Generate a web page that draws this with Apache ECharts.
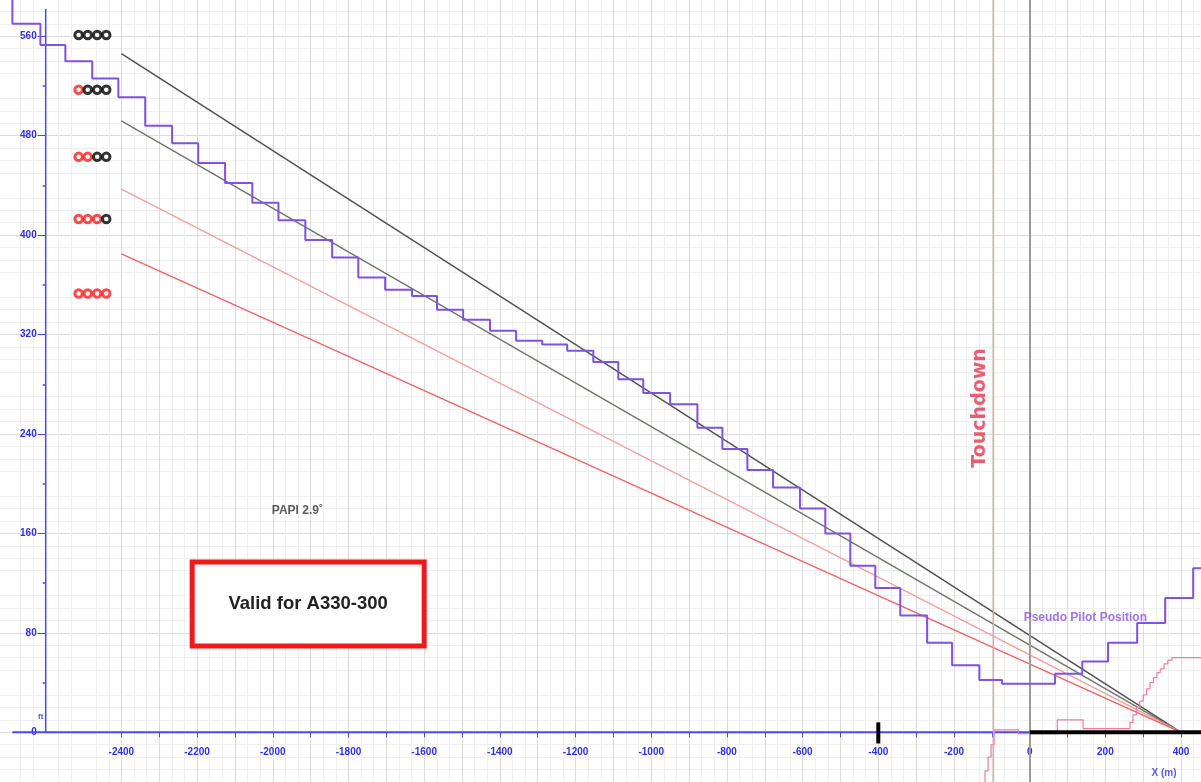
<!DOCTYPE html>
<html>
<head>
<meta charset="utf-8">
<style>html,body{margin:0;padding:0;background:#fff}#chart{width:1201px;height:782px}</style>
<script src="https://cdn.jsdelivr.net/npm/echarts@6.0.0/dist/echarts.min.js"></script>
</head>
<body>
<div id="chart"></div>
<script>
// ---- tick labels ----
const xTickValues = [-2400,-2300,-2200,-2100,-2000,-1900,-1800,-1700,-1600,-1500,-1400,-1300,-1200,-1100,-1000,-900,-800,-700,-600,-500,-400,-300,-200,-100,0,100,200,300,400];
const xLabelValues = [-2400,-2200,-2000,-1800,-1600,-1400,-1200,-1000,-800,-600,-400,-200,0,200,400];
const yLabelValues = [0,80,160,240,320,400,480,560];
const yMinorTickValues = [40,120,200,280,360,440,520];

// ---- PAPI glide lines (x in m, height in ft) ----
const glideX = [-2400, 400];
const papiHigh = [546, 0];
const papiSlightHigh = [492, 0];
const papiSlightLow = [437, 0];
const papiLow = [385, 0];

// ---- Pseudo pilot position (stepped) ----
const pilotX = [-2688,-2688,-2614,-2548,-2477,-2408,-2337,-2266,-2197,-2126,-2054,-1985,-1914,-1843,-1774,-1703,-1632,-1566,-1497,-1426,-1357,-1288,-1222,-1153,-1087,-1021,-950,-878,-812,-746,-678,-607,-540,-474,-408,-342,-271,-205,-133,-73,67,139,207,284,358,432,453];
const pilotY = [592,570,553,540,526,511,488,474,458,442,426,412,396,382,366,356,351,340,332,323,315,312,307,298,284,273,264,245,228,211,197,180,160,134,116,94,72,54,42,39,47,57,72,88,108,132,132];

// ---- wheel height trace (stepped, pink) ----
const wheelX = [-118,-118,-110,-102,-94,-30,73,141,257,265,273,282,291,300,309,318,327,336,345,355,365,376,453];
const wheelY = [-50,-31,-20,-10,2,-1,10,3,3,8,14,20,25,30,35,40,44,48,51,55,58,60,60];

// ---- runway, axes helpers, markers ----
const runwayX = [0, 453];
const runwayY = [0, 0];
const xAxisLineX = [-2688, 453];
const yAxisLineY = [0, 582];
const yAxisAt = -2600;
const touchdownX = -97;
const thresholdX = 0;
const markerX = -400;
const markerY = [8, -9];

// ---- PAPI light indicator rows ----
const papiLightX = [-2513, -2489, -2464, -2440];
const papiRowY = [561, 517, 463, 413, 353];
const papiRedCount = [0, 1, 2, 3, 4];

const blue = '#4848f4';
const blueText = '#3030e8';

function pairs(xs, ys) { return xs.map((x, i) => [x, ys[i]]); }

const papiLights = [];
papiRowY.forEach((y, r) => {
  papiLightX.forEach((x, c) => {
    const red = c < papiRedCount[r];
    papiLights.push({ value: [x, y], itemStyle: { borderColor: red ? '#ff1e1e' : '#000000' } });
  });
});

const chart = echarts.init(document.getElementById('chart'), null, { renderer: 'canvas' });

const axisFont = { color: blueText, fontSize: 10, fontWeight: 'bold', fontFamily: 'Liberation Sans, Arial, sans-serif' };

const option = {
  animation: false,
  backgroundColor: '#ffffff',
  grid: { left: -30, right: 1, top: -1, bottom: 0, containLabel: false, outerBoundsMode: 'none' },
  xAxis: {
    type: 'value', min: -2800, max: 450, interval: 100, position: 'bottom', offset: -49.7,
    axisLine: { show: true, onZero: false, lineStyle: { opacity: 0 } },
    axisTick: { show: true, customValues: xTickValues, length: 5, lineStyle: { color: blue, width: 1 } },
    axisLabel: Object.assign({ customValues: xLabelValues, margin: 15, formatter: v => String(v) }, axisFont),
    splitLine: { show: true, lineStyle: { color: '#dcdcdc', width: 1 } },
    minorTick: { show: false, splitNumber: 3 },
    minorSplitLine: { show: true, lineStyle: { color: '#efefef', width: 1 } }
  },
  yAxis: [
    {
      type: 'value', min: -40, max: 590, interval: 40, position: 'left', offset: -(75.7),
      axisLine: { show: false, onZero: false },
      axisTick: { show: true, customValues: yLabelValues, length: 8, lineStyle: { color: blue, width: 1 } },
      axisLabel: Object.assign({ customValues: yLabelValues, margin: 9, formatter: v => String(v) }, axisFont),
      splitLine: { show: true, lineStyle: { color: '#dcdcdc', width: 1 } },
      minorTick: { show: false, splitNumber: 4 },
      minorSplitLine: { show: true, lineStyle: { color: '#efefef', width: 1 } }
    },
    {
      type: 'value', min: -40, max: 590, interval: 40, position: 'left', offset: -(75.7),
      axisLine: { show: false, onZero: false },
      axisTick: { show: true, customValues: yMinorTickValues, length: 3, lineStyle: { color: blue, width: 1.5 } },
      axisLabel: { show: false },
      splitLine: { show: false }
    }
  ],
  series: [
    {
      name: 'x axis line', type: 'line', symbol: 'none', silent: true, z: 3,
      data: pairs(xAxisLineX, [0, 0]),
      lineStyle: { color: blue, width: 2 },
      markLine: {
        silent: true, symbol: ['none', 'none'], label: { show: false },
        data: [
          { xAxis: touchdownX, lineStyle: { color: '#f4a0ad', width: 1.3, type: 'solid' } },
          { xAxis: thresholdX, lineStyle: { color: '#9c9c9c', width: 2, type: 'solid' } }
        ]
      },
      markArea: {
        silent: true,
        itemStyle: { color: '#ffffff', borderColor: '#f01818', borderWidth: 5 },
        label: { show: true, position: 'inside', formatter: 'Valid for A330-300', fontSize: 18.5, fontWeight: 'bold', color: '#222222', fontFamily: 'Liberation Sans, Arial, sans-serif' },
        data: [[{ coord: [-2213, 137] }, { coord: [-1600, 69.4] }]]
      }
    },
    {
      name: 'y axis line', type: 'line', symbol: 'none', silent: true, z: 3,
      data: pairs([yAxisAt, yAxisAt], yAxisLineY),
      lineStyle: { color: blue, width: 1.5 }
    },
    { name: 'PAPI high', type: 'line', symbol: 'none', z: 4, data: pairs(glideX, papiHigh), lineStyle: { color: '#505050', width: 1.4 } },
    { name: 'PAPI slightly high', type: 'line', symbol: 'none', z: 4, data: pairs(glideX, papiSlightHigh), lineStyle: { color: '#6c766a', width: 1.4 } },
    { name: 'PAPI slightly low', type: 'line', symbol: 'none', z: 4, data: pairs(glideX, papiSlightLow), lineStyle: { color: '#f2a0a0', width: 1.4 } },
    { name: 'PAPI low', type: 'line', symbol: 'none', z: 4, data: pairs(glideX, papiLow), lineStyle: { color: '#ee6464', width: 1.4 } },
    { name: 'Wheel', type: 'line', symbol: 'none', step: 'end', z: 4, data: pairs(wheelX, wheelY), lineStyle: { color: '#f07ca0', width: 1.2 } },
    { name: 'Pseudo Pilot Position', type: 'line', symbol: 'none', step: 'end', z: 5, data: pairs(pilotX, pilotY), lineStyle: { color: '#7f52e2', width: 2 } },
    { name: 'Runway', type: 'line', symbol: 'none', z: 6, data: pairs(runwayX, runwayY), lineStyle: { color: '#000000', width: 4 } },
    { name: 'Marker', type: 'line', symbol: 'none', z: 6, data: pairs([markerX, markerX], markerY), lineStyle: { color: '#000000', width: 4 } },
    {
      name: 'PAPI lights', type: 'scatter', symbol: 'circle', symbolSize: 7.5, z: 7,
      itemStyle: { color: '#ffffff', borderWidth: 3 },
      data: papiLights
    },
    {
      name: 'texts', type: 'scatter', symbolSize: 0, z: 8, silent: true,
      itemStyle: { color: 'transparent' },
      label: { show: true, position: 'inside' },
      data: [
        { value: [-1935, 178], label: { formatter: 'PAPI 2.9˚', fontSize: 12, fontWeight: 'bold', color: '#333333', fontFamily: 'Liberation Sans, Arial, sans-serif' } },
        { value: [-131, 261], label: { formatter: 'Touchdown', rotate: 90, fontSize: 19, fontWeight: 'bold', color: '#e6364f', fontFamily: 'DejaVu Sans, sans-serif' } },
        { value: [147, 92], label: { formatter: 'Pseudo Pilot Position', fontSize: 12, fontWeight: 'bold', color: '#8a50e4', fontFamily: 'Liberation Sans, Arial, sans-serif' } },
        { value: [355, -33], label: { formatter: 'X (m)', fontSize: 10, fontWeight: 'bold', color: blueText, fontFamily: 'Liberation Sans, Arial, sans-serif' } },
        { value: [-2613, 12.5], label: { formatter: 'ft', fontSize: 8, fontWeight: 'bold', color: blueText, fontFamily: 'Liberation Sans, Arial, sans-serif' } }
      ]
    }
  ]
};
chart.setOption(option);
</script>
</body>
</html>
